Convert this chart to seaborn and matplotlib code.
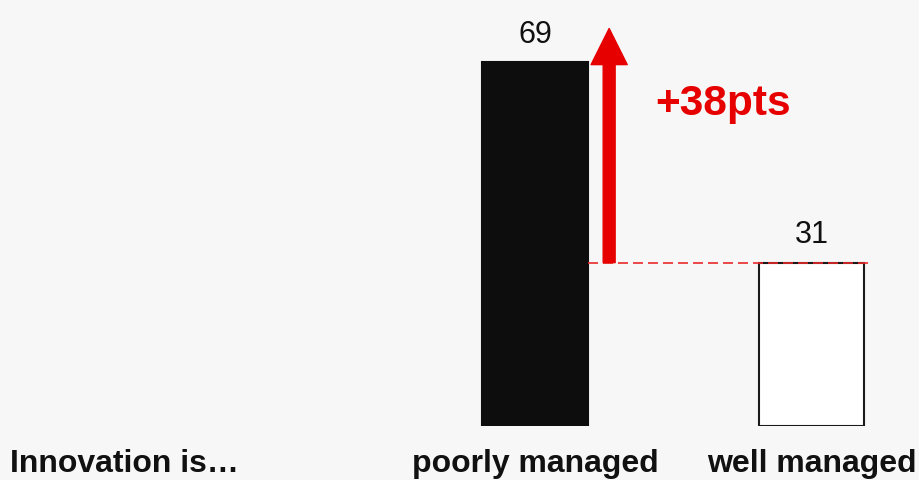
import matplotlib
matplotlib.use('Agg')
import matplotlib.pyplot as plt
import seaborn as sns

# Chart data
categories = ['poorly managed', 'well managed']
values = [69, 31]
bar_colors = ['#0d0d0d', '#ffffff']
row_title = 'Innovation is…'
diff_label = '+38pts'

red = '#e60000'
bg = '#f7f7f7'

plt.rcParams['font.family'] = ['Liberation Sans', 'DejaVu Sans']

fig = plt.figure(figsize=(9.19, 4.8), dpi=100, facecolor=bg)
ax = fig.add_axes([0, 54 / 480, 1, 426 / 480])
ax.set_facecolor(bg)

sns.barplot(x=categories, y=values, hue=categories, palette=bar_colors,
            width=0.38, edgecolor='#1a1a1a', linewidth=1.5, legend=False,
            saturation=1, ax=ax)
# black bar has no visible outline
ax.patches[0].set_edgecolor(bar_colors[0])

ax.set_xlim(-1.9335, 1.3878)
ax.set_ylim(0, 426 / 5.27)

# value labels above the bars
for cont in ax.containers:
    ax.bar_label(cont, fmt='%d', padding=9, fontsize=22, color='#111111')

# dashed reference line at the lower value
bar_half = 0.38 / 2
ax.hlines(values[1], 0 + bar_half, 1.207, colors='#e82a2a', linestyles=(0, (6, 3)),
          linewidth=1.2, zorder=3)

# difference arrow
arrow_x = 0.268
ax.annotate('', xy=(arrow_x, (426 - 28.5) / 5.27), xytext=(arrow_x, values[1]),
            arrowprops=dict(arrowstyle='simple,head_length=2.6,head_width=2.6,tail_width=0.86',
                            mutation_scale=10, color=red, shrinkA=0, shrinkB=0))
fig.text(655 / 919, 1 - 115 / 480, diff_label, color=red, fontsize=30.5,
         fontweight='bold', ha='left', va='baseline')

# category labels
ax.tick_params(axis='x', length=0, pad=33)
ax.set_xticks(range(len(categories)))
ax.set_xticklabels(categories, fontsize=23, fontweight='bold', color='#111111')
for lbl in ax.get_xticklabels():
    lbl.set_verticalalignment('baseline')
ax.set_yticks([])
ax.set_xlabel('')
ax.set_ylabel('')
sns.despine(ax=ax, left=True, bottom=True)

fig.text(10 / 919, 1 - 472 / 480, row_title, fontsize=23, fontweight='bold',
         color='#111111', ha='left', va='baseline')

fig.savefig('out.png', dpi=100, facecolor=bg)
